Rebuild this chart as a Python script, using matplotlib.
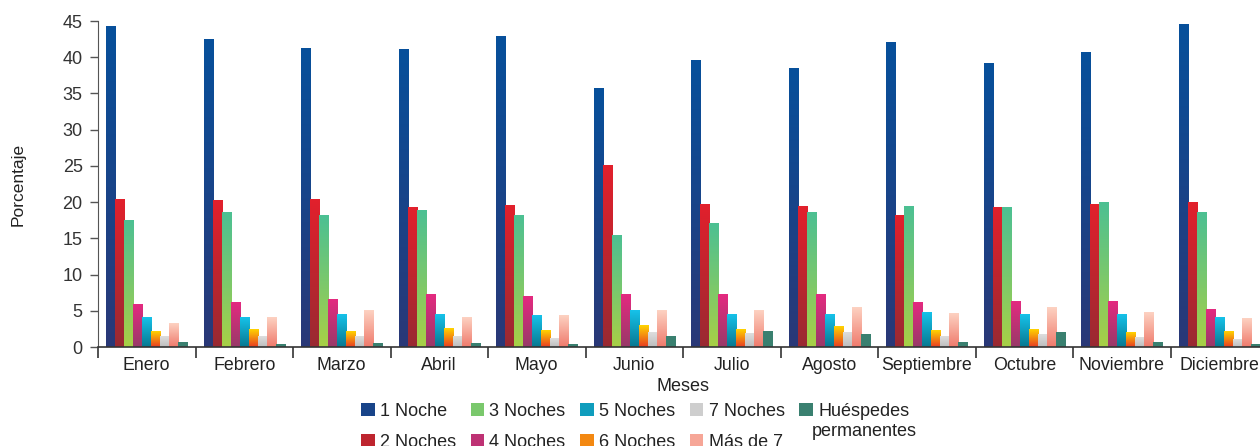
import numpy as np
import matplotlib
matplotlib.use('Agg')
import matplotlib.pyplot as plt
from matplotlib.colors import LinearSegmentedColormap, to_rgb, to_hex
from matplotlib.patches import Patch

plt.rcParams['font.family'] = ['Liberation Sans', 'DejaVu Sans']

meses = ['Enero', 'Febrero', 'Marzo', 'Abril', 'Mayo', 'Junio', 'Julio',
         'Agosto', 'Septiembre', 'Octubre', 'Noviembre', 'Diciembre']
series = ['1 Noche', '2 Noches', '3 Noches', '4 Noches', '5 Noches',
          '6 Noches', '7 Noches', 'Más de 7', 'Huéspedes']

noche_1 = [44.2, 42.4, 41.2, 41.0, 42.9, 35.7, 39.6, 38.4, 42.1, 39.1, 40.7, 44.5]
noches_2 = [20.4, 20.2, 20.4, 19.2, 19.6, 25.0, 19.7, 19.4, 18.2, 19.2, 19.7, 20.0]
noches_3 = [17.5, 18.6, 18.1, 18.9, 18.1, 15.4, 17.1, 18.6, 19.4, 19.3, 19.9, 18.6]
noches_4 = [5.8, 6.1, 6.6, 7.2, 7.0, 7.2, 7.3, 7.2, 6.1, 6.3, 6.3, 5.2]
noches_5 = [4.1, 4.1, 4.5, 4.5, 4.3, 5.0, 4.5, 4.5, 4.8, 4.5, 4.5, 4.1]
noches_6 = [2.1, 2.4, 2.1, 2.6, 2.3, 2.9, 2.4, 2.8, 2.3, 2.4, 2.0, 2.1]
noches_7 = [1.4, 1.4, 1.4, 1.4, 1.15, 2.0, 1.8, 2.0, 1.4, 1.7, 1.3, 1.1]
mas_de_7 = [3.3, 4.1, 5.0, 4.1, 4.3, 5.1, 5.1, 5.5, 4.6, 5.5, 4.8, 3.9]
permanentes = [0.6, 0.4, 0.5, 0.5, 0.3, 1.4, 2.1, 1.7, 0.6, 2.0, 0.6, 0.3]

valores = [noche_1, noches_2, noches_3, noches_4, noches_5,
           noches_6, noches_7, mas_de_7, permanentes]

# (bottom colour, top colour) for each series
gradientes = [('#2a3877', '#07509b'),
              ('#992a32', '#e2202c'),
              ('#a8d046', '#4cc093'),
              ('#983a68', '#e42a80'),
              ('#087890', '#16c2ea'),
              ('#e83c22', '#ffd400'),
              ('#bdbdbd', '#dedede'),
              ('#ef7a6c', '#fdd2c2'),
              ('#3a8070', '#3a8070')]

fig = plt.figure(figsize=(12.6, 4.46), dpi=100)
ax = fig.add_axes([98 / 1260, 1 - 347 / 446, 1170 / 1260, 326 / 446])

x = np.arange(len(meses)) + 0.5
w = 0.0925
grad = np.linspace(0, 1, 128).reshape(-1, 1)

for k, (vals, (c0, c1)) in enumerate(zip(valores, gradientes)):
    bars = ax.bar(x + (k - 4) * w, vals, width=w, facecolor='none',
                  edgecolor='none', zorder=2)
    cmap = LinearSegmentedColormap.from_list('g%d' % k, [c0, c1])
    for b in bars:
        x0, y0 = b.get_xy()
        ax.imshow(grad, extent=[x0, x0 + b.get_width(), y0, y0 + b.get_height()],
                  cmap=cmap, origin='lower', aspect='auto', zorder=2,
                  interpolation='bilinear')

ax.set_xlim(0, 12)
ax.set_ylim(0, 45)
ax.set_aspect('auto')
ax.set_yticks(np.arange(0, 46, 5))

ax.set_xticks(np.arange(0, 13))
ax.set_xticklabels([])
ax.set_xticks(x, minor=True)
ax.set_xticklabels(meses, minor=True, fontsize=12.8, color='#222222')
ax.tick_params(axis='x', which='major', length=8, width=1.2, color='#333333')
ax.tick_params(axis='x', which='minor', length=0, pad=7)
ax.tick_params(axis='y', length=6, width=1, color='#555555', labelsize=13,
               labelcolor='#333333', pad=5)

for s in ['top', 'right']:
    ax.spines[s].set_visible(False)
ax.spines['left'].set_color('#555555')
ax.spines['bottom'].set_color('#333333')
ax.spines['bottom'].set_linewidth(1.2)

ax.set_xlabel('Meses', fontsize=13, color='#222222', labelpad=3)
fig.text(18 / 1260, 1 - 184 / 446, 'Porcentaje', rotation=90, ha='center',
         va='center', fontsize=12.5, color='#222222')


def mezcla(c):
    return to_hex(np.mean([to_rgb(c[0]), to_rgb(c[1])], axis=0))


handles = [Patch(facecolor=mezcla(c), edgecolor='none') for c in gradientes]
fig.legend(handles, series, ncol=5, loc='upper left',
           bbox_to_anchor=(361 / 1260, 1 - 403 / 446), frameon=False,
           fontsize=13, borderpad=0, borderaxespad=0, handlelength=0.75,
           handleheight=0.75, handletextpad=0.3, columnspacing=0.8,
           labelspacing=0.75, labelcolor='#222222')
fig.text(812 / 1260, 1 - 431 / 446, 'permanentes', ha='left', va='center',
         fontsize=13, color='#222222')

fig.savefig('out.png', dpi=100)
